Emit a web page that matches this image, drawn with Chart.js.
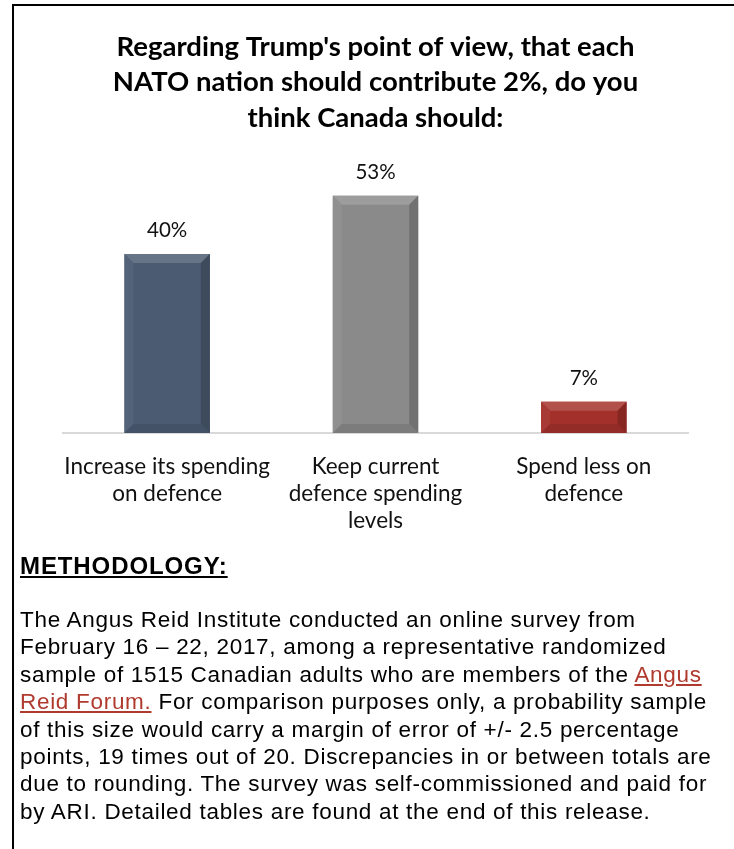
<!DOCTYPE html>
<html>
<head>
<meta charset="utf-8">
<script src="https://cdn.jsdelivr.net/npm/chart.js@4.4.1/dist/chart.umd.min.js"></script>
<style>
  html, body { margin: 0; padding: 0; background: #fff; }
  body { width: 734px; height: 849px; position: relative; overflow: hidden; }
  #frame {
    position: absolute; left: 12px; top: 4px; width: 740px; height: 900px;
    border-left: 2px solid #000; border-top: 2px solid #000;
  }
  #chartBox { position: absolute; left: 14px; top: 6px; width: 720px; height: 552px; }
  #method {
    position: absolute; left: 20px; top: 550px; width: 712px;
    font-family: "Liberation Sans", Arial, sans-serif; color: #000; white-space: nowrap;
  }
  #method h3 {
    margin: 0; font-size: 24px; font-weight: bold; text-decoration: underline;
    line-height: 32px; letter-spacing: 0.9px;
  }
  #method p { margin: 24px 0 0 0; font-size: 22.5px; line-height: 27.4px; letter-spacing: 0.7px; }
  #method a { color: #b03a2e; text-decoration: underline; }
</style>
</head>
<body>
<div id="frame"></div>
<div id="chartBox"><canvas id="natoChart"></canvas></div>
<div id="method">
  <h3>METHODOLOGY:</h3>
  <p>The Angus Reid Institute conducted an online survey from<br>
February 16 – 22, 2017, among a representative randomized<br>
sample of 1515 Canadian adults who are members of the <a>Angus</a><br>
<a>Reid Forum.</a> For comparison purposes only, a probability sample<br>
of this size would carry a margin of error of +/- 2.5 percentage<br>
points, 19 times out of 20. Discrepancies in or between totals are<br>
due to rounding. The survey was self-commissioned and paid for<br>
by ARI. Detailed tables are found at the end of this release.</p>
</div>
<script>
// Angus Reid, Feb 2017: Canada's view on the 2% NATO contribution
const TITLE_LINES = [
  "Regarding Trump's point of view, that each",
  'NATO nation should contribute 2%, do you',
  'think Canada should:',
];
const CATEGORIES = [
  ['Increase its spending', 'on defence'],
  ['Keep current', 'defence spending', 'levels'],
  ['Spend less on', 'defence'],
];
const SHARES = [40, 53, 7];
const BAR_COLORS = ['#4a5b72', '#8a8a8a', '#a3302a'];

function shade(hex, amt) {
  const n = parseInt(hex.slice(1), 16);
  const ch = (v) => Math.max(0, Math.min(255, Math.round(v + (amt > 0 ? (255 - v) * amt : v * amt))));
  const r = ch(n >> 16), g = ch((n >> 8) & 255), b = ch(n & 255);
  return `rgb(${r},${g},${b})`;
}

// bevelled look like the Excel original
const bevelPlugin = {
  id: 'bevel',
  afterDatasetsDraw(chart) {
    const { ctx } = chart;
    const meta = chart.getDatasetMeta(0);
    meta.data.forEach((bar, i) => {
      const base = BAR_COLORS[i];
      const l = bar.x - bar.width / 2, r = bar.x + bar.width / 2;
      const t = bar.y, b = bar.base;
      const bv = Math.min(9, (b - t) / 2);
      const poly = (pts, color) => {
        ctx.beginPath();
        ctx.moveTo(pts[0][0], pts[0][1]);
        for (let k = 1; k < pts.length; k++) ctx.lineTo(pts[k][0], pts[k][1]);
        ctx.closePath();
        ctx.fillStyle = color;
        ctx.fill();
      };
      ctx.save();
      poly([[l, t], [r, t], [r - bv, t + bv], [l + bv, t + bv]], shade(base, 0.16));
      poly([[l, t], [l + bv, t + bv], [l + bv, b - bv], [l, b]], shade(base, 0.05));
      poly([[r, t], [r, b], [r - bv, b - bv], [r - bv, t + bv]], shade(base, -0.18));
      poly([[l, b], [l + bv, b - bv], [r - bv, b - bv], [r, b]], shade(base, -0.1));
      ctx.restore();
    });
  },
};

const valueLabelPlugin = {
  id: 'valueLabels',
  afterDatasetsDraw(chart) {
    const { ctx } = chart;
    const meta = chart.getDatasetMeta(0);
    ctx.save();
    ctx.font = '20.5px Lato, "Open Sans", sans-serif';
    ctx.fillStyle = '#111';
    ctx.textAlign = 'center';
    ctx.textBaseline = 'bottom';
    meta.data.forEach((bar, i) => {
      ctx.fillText(SHARES[i] + '%', bar.x, bar.y - 13);
    });
    ctx.restore();
  },
};

new Chart(document.getElementById('natoChart'), {
  type: 'bar',
  data: {
    labels: CATEGORIES,
    datasets: [{
      data: SHARES,
      backgroundColor: BAR_COLORS,
      borderWidth: 0,
      barPercentage: 0.41,
      categoryPercentage: 1,
    }],
  },
  options: {
    responsive: true,
    maintainAspectRatio: false,
    animation: false,
    layout: { padding: { left: 49, right: 46, top: 0, bottom: 4 } },
    scales: {
      x: {
        grid: { display: false, drawTicks: false },
        border: { display: true, color: '#d9d9d9', width: 2 },
        ticks: {
          color: '#111',
          padding: 20,
          maxRotation: 0,
          autoSkip: false,
          font: { family: 'Lato, "Open Sans", sans-serif', size: 22.5, lineHeight: 1.2 },
        },
      },
      y: { display: false, min: 0, max: 60 },
    },
    plugins: {
      legend: { display: false },
      tooltip: { enabled: false },
      title: {
        display: true,
        text: TITLE_LINES,
        color: '#000',
        font: { family: 'Lato, "Open Sans", sans-serif', size: 27.5, weight: 'bold', lineHeight: 1.29 },
        padding: { top: 23, bottom: 29 },
      },
    },
  },
  plugins: [bevelPlugin, valueLabelPlugin],
});
</script>
</body>
</html>
